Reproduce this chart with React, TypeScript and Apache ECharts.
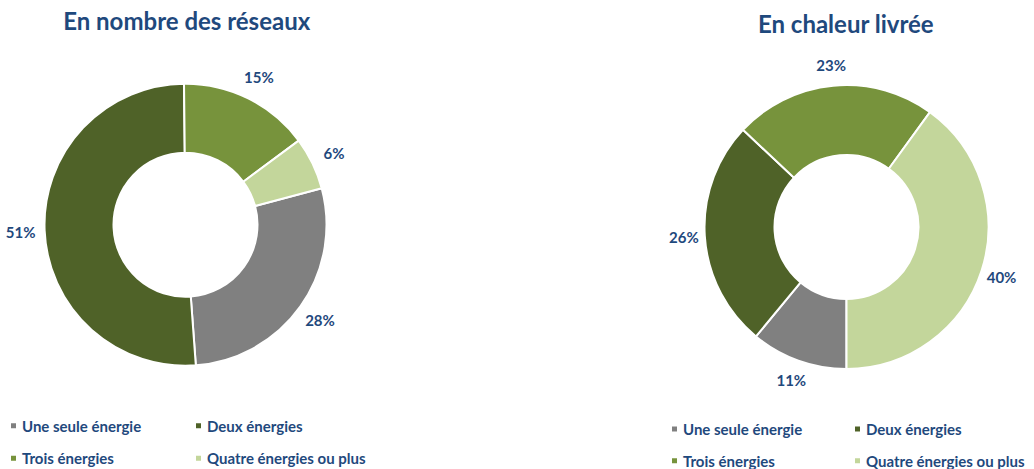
import React, { useEffect, useRef } from "react";
import * as echarts from "echarts";

const categories = [
  "Une seule énergie",
  "Deux énergies",
  "Trois énergies",
  "Quatre énergies ou plus",
];
const reseauxValues = [28, 51, 15, 6];
const chaleurValues = [11, 26, 23, 40];
const chartTitles = ["En nombre des réseaux", "En chaleur livrée"];
const sliceColors = ["#808080", "#4f6228", "#77933c", "#c3d69b"];

const BLUE = "#1f497d";
const FONT = "Lato, 'Open Sans', sans-serif";

function makeData(values: number[]) {
  return categories.map((name, i) => ({
    name,
    value: values[i],
    itemStyle: { color: sliceColors[i] },
  }));
}

function donut(values: number[], center: number[], radius: number[], startAngle: number) {
  return {
    type: "pie",
    center,
    radius,
    startAngle,
    clockwise: true,
    avoidLabelOverlap: false,
    label: { show: false },
    labelLine: { show: false },
    itemStyle: { borderColor: "#ffffff", borderWidth: 2 },
    emphasis: { disabled: true },
    data: makeData(values),
  };
}

function labelRing(values: number[], center: number[], radius: number[], startAngle: number) {
  return {
    type: "pie",
    center,
    radius,
    startAngle,
    clockwise: true,
    silent: true,
    avoidLabelOverlap: false,
    itemStyle: { color: "rgba(0,0,0,0)", borderWidth: 0 },
    emphasis: { disabled: true },
    label: {
      show: true,
      position: "inside",
      formatter: "{c}%",
      color: BLUE,
      fontFamily: FONT,
      fontWeight: "bold",
      fontSize: 15,
    },
    labelLine: { show: false },
    data: categories.map((name, i) => ({ name, value: values[i] })),
  };
}

function legendCol(names: string[], left: number, top: number, gap: number) {
  return {
    orient: "vertical",
    left,
    top,
    padding: 0,
    itemGap: gap,
    itemWidth: 7,
    itemHeight: 7,
    icon: "rect",
    selectedMode: false,
    data: names,
    textStyle: {
      color: BLUE,
      fontFamily: FONT,
      fontWeight: "bold",
      fontSize: 15,
      lineHeight: 16,
      padding: [0, 0, 0, 0],
    },
  };
}

export default function App() {
  const ref = useRef<HTMLDivElement>(null);

  useEffect(() => {
    if (!ref.current) return;
    const chart = echarts.init(ref.current, undefined, { renderer: "svg" });
    const leftC = [185.5, 224.7];
    const rightC = [846.5, 227];
    chart.setOption({
      animation: false,
      backgroundColor: "#ffffff",
      title: [
        {
          text: chartTitles[0],
          left: 186.7,
          top: 8,
          textAlign: "center",
          padding: 0,
          textStyle: { color: BLUE, fontFamily: FONT, fontWeight: "bold", fontSize: 24 },
        },
        {
          text: chartTitles[1],
          left: 845.8,
          top: 11,
          textAlign: "center",
          padding: 0,
          textStyle: { color: BLUE, fontFamily: FONT, fontWeight: "bold", fontSize: 24 },
        },
      ],
      legend: [
        legendCol([categories[0], categories[2]], 9, 417.7, 16.6),
        legendCol([categories[1], categories[3]], 194, 417.7, 16.6),
        legendCol([categories[0], categories[2]], 670, 421, 15.7),
        legendCol([categories[1], categories[3]], 853, 421, 15.7),
      ],
      series: [
        donut(reseauxValues, leftC, [72, 141], 15),
        donut(chaleurValues, rightC, [72, 142], -90),
        labelRing(reseauxValues, leftC, [152, 172], 15),
        labelRing(chaleurValues, rightC, [150, 170], -90),
      ],
    });
    return () => chart.dispose();
  }, []);

  return (
    <div
      ref={ref}
      style={{ position: "fixed", left: 0, top: 0, width: 1034, height: 469, background: "#fff" }}
    />
  );
}
